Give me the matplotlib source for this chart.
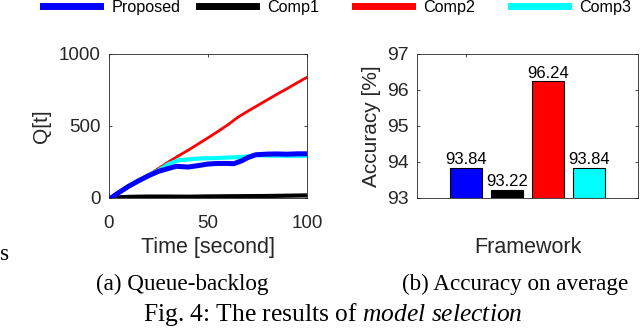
#!/usr/bin/env python3
"""Model selection results: queue backlog over time and average accuracy."""
import matplotlib
matplotlib.use("Agg")
import matplotlib.pyplot as plt
from matplotlib.lines import Line2D

W, H = 640, 332
DPI = 100

NAMES = ["Proposed", "Comp1", "Comp2", "Comp3"]
COLORS = ["#0000ff", "#000000", "#ff0000", "#00ffff"]

# (a) queue backlog
T_PROP = [1, 5, 10, 15, 20, 25, 30, 34, 40, 45, 50, 55, 60, 63, 67, 70, 74, 80, 85, 90, 95, 100]
Q_PROP = [0, 38, 82, 120, 155, 185, 205, 220, 215, 225, 236, 240, 240, 238, 258, 280, 300, 305, 306, 304, 307, 307]
T_COMP1 = [1, 10, 20, 30, 40, 50, 60, 70, 80, 90, 100]
Q_COMP1 = [2, 8, 10, 10, 9, 11, 12, 13, 14, 16, 18]
T_COMP2 = [1, 5, 10, 15, 20, 25, 30, 35, 40, 45, 50, 55, 60, 65, 70, 75, 80, 85, 90, 95, 100]
Q_COMP2 = [0, 38, 80, 118, 160, 205, 250, 292, 332, 375, 418, 462, 508, 560, 602, 642, 682, 722, 760, 800, 838]
T_COMP3 = [1, 5, 10, 15, 20, 25, 30, 35, 40, 45, 50, 55, 60, 65, 70, 74, 80, 90, 100]
Q_COMP3 = [0, 38, 82, 120, 158, 192, 235, 262, 268, 274, 276, 278, 281, 283, 288, 298, 295, 293, 293]

# (b) accuracy
BAR_POS = [0, 1, 2, 3]
ACCURACY = [93.84, 93.22, 96.24, 93.84]

AX_COLOR = "#262626"
plt.rcParams["font.family"] = ["Liberation Sans", "DejaVu Sans"]
plt.rcParams["mathtext.fontset"] = "custom"
plt.rcParams["mathtext.rm"] = "Liberation Serif"
plt.rcParams["mathtext.it"] = "Liberation Serif:italic"


def px_rect(left, top, right, bottom):
    return [left / W, 1 - bottom / H, (right - left) / W, (bottom - top) / H]


def style_axes(ax, ticksize):
    for s in ax.spines.values():
        s.set_color(AX_COLOR)
        s.set_linewidth(0.6)
    ax.tick_params(direction="in", top=True, right=True, length=2.5, width=0.6,
                   colors=AX_COLOR, labelsize=ticksize, labelcolor=AX_COLOR)
    ax.tick_params(axis="x", pad=12)
    ax.tick_params(axis="y", pad=5.8)


fig = plt.figure(figsize=(W / DPI, H / DPI), dpi=DPI)

# (a) queue backlog
ax1 = fig.add_axes(px_rect(109, 54, 307, 198))
ax1.plot(T_COMP2, Q_COMP2, color=COLORS[2], linewidth=2.0, zorder=3)
ax1.plot(T_COMP1, Q_COMP1, color=COLORS[1], linewidth=3.0, zorder=2)
ax1.plot(T_COMP3, Q_COMP3, color=COLORS[3], linewidth=3.0, zorder=4)
ax1.plot(T_PROP, Q_PROP, color=COLORS[0], linewidth=3.6, zorder=5)
ax1.set_xlim(0, 100)
ax1.set_ylim(0, 1000)
ax1.set_xticks([0, 50, 100])
ax1.set_yticks([0, 500, 1000])
style_axes(ax1, 13.5)
ax1.set_xlabel("Time [second]", fontsize=15.5, color=AX_COLOR, va="center")
ax1.xaxis.set_label_coords(0.5, -0.347)
ax1.set_ylabel("Q[t]", fontsize=15, color=AX_COLOR, va="center")
ax1.yaxis.set_label_coords(-0.343, 0.5)

# (b) accuracy
ax2 = fig.add_axes(px_rect(417, 54, 638, 198))
ax2.bar(BAR_POS, [a - 93 for a in ACCURACY], bottom=93, width=0.78, color=COLORS,
        edgecolor="black", linewidth=0.8, zorder=3)
for x, a in zip(BAR_POS, ACCURACY):
    ax2.text(x, a + 0.02, f"{a:.2f}", ha="center", va="bottom", fontsize=12, color="black")
ax2.set_xlim(-1.2, 4.21)
ax2.set_ylim(93, 97)
ax2.set_yticks([93, 94, 95, 96, 97])
ax2.set_xticks([BAR_POS[0]])
ax2.set_xticklabels([""])
style_axes(ax2, 14)
ax2.set_xlabel("Framework", fontsize=15.5, color=AX_COLOR, va="center")
ax2.xaxis.set_label_coords(0.5, -0.347)
ax2.set_ylabel("Accuracy [%]", fontsize=15, color=AX_COLOR, va="center")
ax2.yaxis.set_label_coords(-0.204, 0.5)

# legend row along the top, one fixed-width slot per series
for i, (name, c) in enumerate(zip(NAMES, COLORS)):
    h = Line2D([], [], color=c, linewidth=5)
    fig.legend(handles=[h], labels=[name], loc="center left",
               bbox_to_anchor=((43 + 156 * i) / W, 1 - 7.5 / H),
               frameon=False, fontsize=11.6, handlelength=56.5 / 16.1,
               handletextpad=12 / 16.1, borderpad=0, borderaxespad=0)

# captions
serif = ["Liberation Serif", "DejaVu Serif"]
fig.text(182.5 / W, 1 - 284 / H, "(a) Queue-backlog", ha="center", va="center",
         fontsize=16.7, family=serif)
fig.text(515 / W, 1 - 284 / H, "(b) Accuracy on average", ha="center", va="center",
         fontsize=16.7, family=serif)
fig.text(333 / W, 1 - 315 / H, r"Fig. 4: The results of $\it{model\ selection}$",
         ha="center", va="center", fontsize=18.4, family=serif)
fig.text(0, 1 - 254 / H, "s", ha="left", va="center", fontsize=16.7, family=serif)

fig.savefig("out.png", dpi=DPI)
